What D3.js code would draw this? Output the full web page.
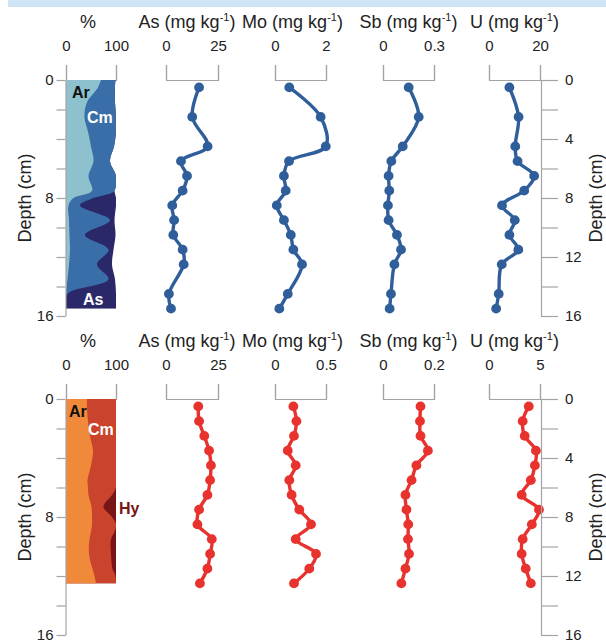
<!DOCTYPE html>
<html><head><meta charset="utf-8">
<script src="https://cdn.jsdelivr.net/npm/d3@7"></script>
<style>
body{margin:0;background:#fff}
svg{display:block}
text{font-family:"Liberation Sans",Arial,Helvetica,sans-serif}
</style>
</head><body>
<svg id="chart" width="606" height="640"></svg>
<script>
// ---------- data ----------
const elements = ["As", "Mo", "Sb", "U"];
const depthTicks = [0, 2, 4, 6, 8, 10, 12, 14, 16];

// upper core (blue)
const topMax = [25, 2, 0.3, 20];
const topTickLabels = [["0", "25"], ["0", "2"], ["0", "0.3"], ["0", "20"]];
const topDepths = [0.5, 2.5, 4.5, 5.5, 6.5, 7.5, 8.5, 9.5, 10.5, 11.5, 12.5, 14.5, 15.5];
const topAs = [15.9, 12.6, 20.0, 7.2, 10.1, 8.0, 3.0, 3.9, 3.5, 8.0, 8.5, 1.4, 2.4];
const topMo = [0.56, 1.79, 1.99, 0.55, 0.35, 0.42, 0.07, 0.35, 0.62, 0.72, 1.06, 0.50, 0.17];
const topSb = [0.151, 0.210, 0.116, 0.049, 0.033, 0.037, 0.029, 0.033, 0.082, 0.106, 0.067, 0.047, 0.039];
const topU = [8.0, 11.6, 10.3, 11.2, 17.7, 13.8, 5.1, 10.1, 8.0, 11.5, 5.0, 3.8, 2.8];

// upper core composition (%): Ar, Cm, As
const topCompNames = ["Ar", "Cm", "As"];
const topCompDepths = [0, 0.5, 1.5, 2.5, 3.5, 4.5, 5.5, 6.5, 7.5, 8.0, 8.5, 9.5, 10.5, 11.5, 12.5, 13.5, 14.5, 15.5];
const topAr = [70, 64, 42, 37, 44, 50, 55, 45, 52, 15, 5, 6, 7, 8, 6, 3, 0, 0];
const topCm = [29, 34, 56, 63, 56, 46, 33, 55, 45, 40, 23, 82, 31, 77, 56, 82, 3, 0];
const topAsMin = [0, 0, 0, 0, 0, 0, 0, 0, 0, 45, 72, 9, 61, 10, 30, 13, 97, 100];

// lower core (red)
const botMax = [25, 0.5, 0.2, 5];
const botTickLabels = [["0", "25"], ["0", "0.5"], ["0", "0.2"], ["0", "5"]];
const botDepths = [0.5, 1.5, 2.5, 3.5, 4.5, 5.5, 6.5, 7.5, 8.5, 9.5, 10.5, 11.5, 12.5];
const botAs = [15.5, 15.9, 18.4, 20.7, 21.6, 21.2, 19.9, 15.9, 15.1, 22.0, 21.2, 19.9, 16.3];
const botMo = [0.18, 0.21, 0.186, 0.125, 0.203, 0.14, 0.163, 0.238, 0.353, 0.203, 0.402, 0.336, 0.186];
const botSb = [0.147, 0.145, 0.147, 0.176, 0.131, 0.112, 0.088, 0.092, 0.099, 0.098, 0.102, 0.088, 0.072];
const botU = [3.9, 3.3, 3.5, 4.6, 4.5, 4.1, 3.2, 4.9, 4.2, 3.3, 3.2, 3.6, 4.1];

// lower core composition (%): Ar, Cm, Hy
const botCompNames = ["Ar", "Cm", "Hy"];
const botCompDepths = [0, 0.5, 1.5, 2.5, 3.5, 4.5, 5.5, 6.0, 6.5, 7.3, 8.0, 8.5, 9.0, 9.5, 10.5, 11.5, 12.0, 12.5];
const botAr = [42, 42, 44, 48, 54, 50, 43, 44, 45, 51, 52, 52, 50, 47, 46, 53, 57, 60];
const botCm = [58, 58, 56, 52, 46, 50, 57, 56, 47, 24, 40, 48, 47, 43, 44, 40, 42, 40];
const botHy = [0, 0, 0, 0, 0, 0, 0, 0, 8, 25, 8, 0, 3, 10, 10, 7, 1, 0];

// ---------- layout ----------
const svg = d3.select("#chart");
const FONT = '"Liberation Sans",Arial,Helvetica,sans-serif';
const GRAY = "#a3a3a3";
const TXT = "#222";

svg.append("rect").attr("x", 8).attr("y", 0).attr("width", 598).attr("height", 7).attr("fill", "#cfe4f4");

const compRange = [66, 116];
const elemRanges = [[166, 218], [275, 326], [383, 434], [489, 540]];
const titleShift = [-5, -8, 0, 0];
const rightAxisX = 541;

function drawPanel(cfg) {
  const y = d3.scaleLinear().domain([0, 16]).range([cfg.y0, cfg.y0 + 236]);
  const g = svg.append("g");

  // titles
  const titleY = cfg.y0 - 52;
  g.append("text").attr("x", (compRange[0] + compRange[1]) / 2 - 3).attr("y", titleY)
    .attr("text-anchor", "middle").attr("font-size", 18).attr("fill", TXT).text("%");
  elements.forEach((el, i) => {
    const r = elemRanges[i];
    const t = g.append("text").attr("x", (r[0] + r[1]) / 2 + titleShift[i]).attr("y", titleY)
      .attr("text-anchor", "middle").attr("font-size", 18).attr("fill", TXT);
    t.append("tspan").text(el + " (mg kg");
    t.append("tspan").attr("font-size", 11).attr("dy", -7).text("-1");
    t.append("tspan").attr("dy", 7).text(")");
  });

  // top brackets
  function bracket(scale, vals, labels) {
    const ax = d3.axisTop(scale).tickValues(vals).tickFormat((d, i) => labels[i])
      .tickSize(15).tickSizeOuter(15).tickPadding(14);
    const bg = g.append("g").attr("transform", `translate(0,${y(0)})`).call(ax).attr("color", GRAY);
    bg.selectAll("text").attr("font-size", 15).attr("font-family", FONT).attr("fill", TXT);
    bg.selectAll("path,line").attr("stroke-width", 1.2);
  }
  const xc = d3.scaleLinear().domain([0, 100]).range(compRange);
  bracket(xc, [0, 100], ["0", "100"]);

  // composition column
  const clipId = "clip" + cfg.id;
  const maxD = d3.max(cfg.compDepths);
  svg.append("clipPath").attr("id", clipId).append("rect")
    .attr("x", xc(0)).attr("y", y(0)).attr("width", xc(100) - xc(0)).attr("height", y(maxD) - y(0));
  const cg = g.append("g").attr("clip-path", `url(#${clipId})`);
  const s = cfg.compSeries;
  const cum = [
    cfg.compDepths.map((d, i) => s[0][i] + s[1][i] + s[2][i]),
    cfg.compDepths.map((d, i) => s[0][i] + s[1][i]),
    cfg.compDepths.map((d, i) => s[0][i])
  ];
  const fills = [cfg.compColors[2], cfg.compColors[1], cfg.compColors[0]];
  cum.forEach((c, k) => {
    const area = d3.area()
      .y((d, i) => y(cfg.compDepths[i]))
      .x0(xc(0))
      .x1((d, i) => xc(c[i]))
      .curve(d3.curveCatmullRom.alpha(0.5));
    cg.append("path").datum(c).attr("d", area).attr("fill", fills[k]);
  });
  // composition labels
  cfg.compLabels.forEach(l => {
    g.append("text").attr("x", xc(l.p)).attr("y", y(l.d)).attr("font-size", 16)
      .attr("font-weight", "bold").attr("fill", l.c).text(l.t);
  });

  // element profiles
  cfg.series.forEach((vals, i) => {
    const x = d3.scaleLinear().domain([0, cfg.max[i]]).range(elemRanges[i]);
    bracket(x, [0, cfg.max[i]], cfg.tickLabels[i]);
    const line = d3.line().x(d => x(d[1])).y(d => y(d[0])).curve(d3.curveCatmullRom.alpha(0.5));
    const pts = cfg.depths.map((d, j) => [d, vals[j]]);
    g.append("path").datum(pts).attr("d", line).attr("fill", "none")
      .attr("stroke", cfg.color).attr("stroke-width", 3.4).attr("stroke-linejoin", "round");
    g.selectAll(null).data(pts).enter().append("circle")
      .attr("cx", d => x(d[1])).attr("cy", d => y(d[0])).attr("r", 4.9).attr("fill", cfg.color);
  });

  // depth axes
  const la = d3.axisLeft(y).tickValues(depthTicks).tickFormat(d => d % 8 === 0 ? d : "")
    .tickSize(9).tickPadding(3).tickSizeOuter(0);
  const lg = g.append("g").attr("transform", `translate(${compRange[0] - 0.5},0)`).call(la).attr("color", GRAY);
  lg.selectAll("text").attr("font-size", 15).attr("font-family", FONT).attr("fill", TXT);
  lg.selectAll("path,line").attr("stroke-width", 1.2);

  const ra = d3.axisRight(y).tickValues(depthTicks).tickFormat(d => d % 4 === 0 ? d : "")
    .tickSize(17).tickPadding(7).tickSizeOuter(0);
  const rg = g.append("g").attr("transform", `translate(${rightAxisX},0)`).call(ra).attr("color", GRAY);
  rg.selectAll("text").attr("font-size", 15).attr("font-family", FONT).attr("fill", TXT);
  rg.selectAll("path,line").attr("stroke-width", 1.2);

  const midY = y(8);
  g.append("text").attr("transform", `translate(31,${midY}) rotate(-90)`).attr("text-anchor", "middle")
    .attr("font-size", 18).attr("fill", TXT).text("Depth (cm)");
  g.append("text").attr("transform", `translate(602,${midY}) rotate(-90)`).attr("text-anchor", "middle")
    .attr("font-size", 18).attr("fill", TXT).text("Depth (cm)");
}

drawPanel({
  id: "top", y0: 80,
  max: topMax, tickLabels: topTickLabels,
  depths: topDepths, series: [topAs, topMo, topSb, topU],
  color: "#2f5e9b",
  compDepths: topCompDepths, compSeries: [topAr, topCm, topAsMin],
  compColors: ["#8cc1cd", "#3a6ea8", "#2b2869"],
  compLabels: [
    {t: topCompNames[0], p: 12, d: 1.22, c: "#111"},
    {t: topCompNames[1], p: 42, d: 2.9, c: "#fff"},
    {t: topCompNames[2], p: 34, d: 15.25, c: "#fff"}
  ]
});

drawPanel({
  id: "bot", y0: 399,
  max: botMax, tickLabels: botTickLabels,
  depths: botDepths, series: [botAs, botMo, botSb, botU],
  color: "#e8322d",
  compDepths: botCompDepths, compSeries: [botAr, botCm, botHy],
  compColors: ["#f0893a", "#c9432d", "#7a1517"],
  compLabels: [
    {t: botCompNames[0], p: 6, d: 1.22, c: "#111"},
    {t: botCompNames[1], p: 44, d: 2.44, c: "#fff"},
    {t: botCompNames[2], p: 106, d: 7.8, c: "#7a1517"}
  ]
});
</script>
</body></html>
